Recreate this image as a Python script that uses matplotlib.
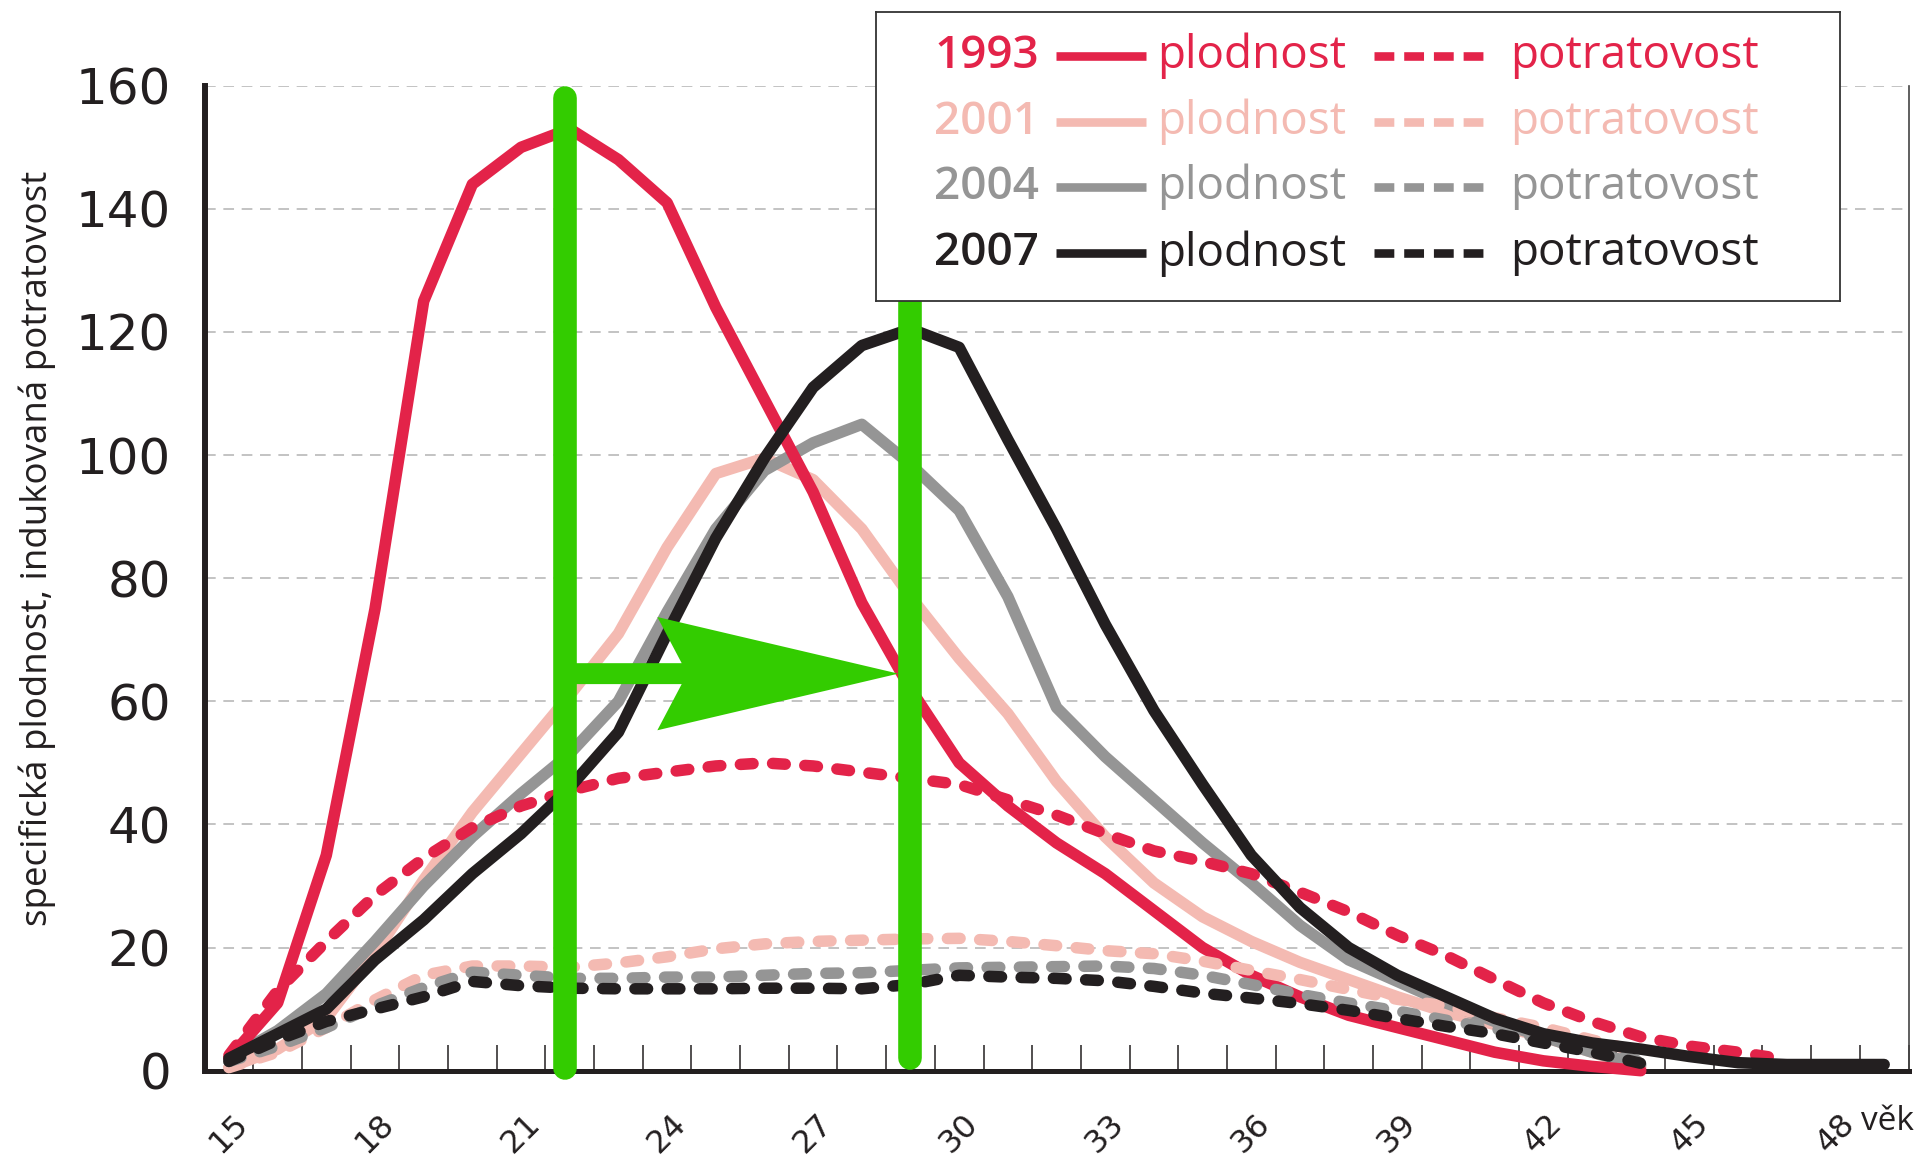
import matplotlib
matplotlib.use("Agg")
import matplotlib.pyplot as plt
from matplotlib.ticker import MultipleLocator
import numpy as np

plt.rcParams['font.family'] = ['Open Sans', 'DejaVu Sans']

# ages (věk)
ages = list(range(15, 45))          # 15..44
ages_pot_1993 = list(range(15, 48))  # 15..47
ages_plod_2007 = list(range(15, 50))  # 15..49

# specifická plodnost (per 1000 women)
plod_1993 = [2, 11, 35, 75, 125, 144, 150, 153, 148, 141, 124, 109, 94, 76, 62,
             50, 43, 37, 32, 26, 20, 15.5, 12, 9, 7, 5, 3, 1.6, 0.7, 0]
plod_2001 = [0.5, 3.5, 8.5, 19, 31, 42, 51.5, 61, 71, 85, 97, 99.5, 96, 88, 77,
             67, 58, 47, 38, 30.5, 25, 21, 17.6, 14.8, 12, 9.5, 7.5, 5.5, 3, 0.5]
plod_2004 = [2, 6.5, 12.5, 21, 30, 38, 45, 51.5, 60, 74.5, 88, 97.5, 102, 105, 98.5,
             91, 77, 59, 51, 44, 37, 30.5, 23.6, 18, 14.5, 11, 8, 5.5, 3, 1]
plod_2007 = [2, 6, 10, 18, 24.5, 32, 38.5, 46, 55, 71, 86.5, 99.5, 111, 117.8, 120.5,
             117.5, 102.5, 88, 72.5, 58.5, 46.5, 35, 26.5, 20, 15.5, 12, 8.5, 6, 4.5, 3.5,
             2.3, 1.3, 1, 1, 1]

# indukovaná potratovost
pot_1993 = [2.5, 13, 21, 28.5, 34.5, 39.5, 43, 45.5, 47.5, 48.5, 49.5, 50, 49.5, 48.5, 47.5,
            46.5, 44, 41.5, 38.5, 35.7, 34, 32, 29, 25.8, 22, 18.7, 14.8, 11, 8, 5.5,
            4, 3, 1.8]
pot_2001 = [0.5, 3, 7, 11.5, 15.5, 17, 17, 16.8, 17.5, 18.5, 19.8, 20.6, 21, 21.2, 21.4,
            21.5, 21, 20.3, 19.5, 19, 17.8, 16.3, 14.8, 13.2, 11.6, 10.5, 8.6, 7, 5, 3]
pot_2004 = [1.5, 4, 7, 10.5, 13.5, 16, 15.5, 15, 15, 15.2, 15.2, 15.5, 15.8, 15.9, 16.3,
            16.7, 16.8, 16.9, 17, 16.6, 15.5, 14, 12.4, 11, 9.7, 8.2, 6.8, 5.2, 3.5, 1.5]
pot_2007 = [1.5, 5, 8, 10, 12, 14.5, 13.8, 13.4, 13.3, 13.3, 13.3, 13.4, 13.4, 13.3, 14,
            15.5, 15.2, 15, 14.6, 13.7, 12.6, 11.8, 10.9, 9.8, 8.5, 7.2, 6, 4.5, 3, 1.2]

years = ["1993", "2001", "2004", "2007"]
colors = ["#e32349", "#f4bab2", "#959595", "#231f20"]

# peak shift annotation (age of peak 1993 -> 2007)
peak_from = 21.9
peak_to = 29.0
arrow_y = 64.5
green = "#33cc00"

fig = plt.figure(figsize=(19.21, 11.59), dpi=100)
ax = fig.add_axes([0.1065, 0.0762, 0.887, 0.8498])

lw = 8.3
dash = (1.1, 1.7)
series = [
    (ages, plod_2001, colors[1], "-", 2),
    (ages, plod_2004, colors[2], "-", 3),
    (ages, plod_1993, colors[0], "-", 4),
    (ages, pot_2001, colors[1], "--", 5),
    (ages, pot_2004, colors[2], "--", 6),
    (ages_pot_1993, pot_1993, colors[0], "--", 7),
    (ages, pot_2007, colors[3], "--", 8),
    (ages_plod_2007, plod_2007, colors[3], "-", 9),
]
for x, y, c, ls, z in series:
    line, = ax.plot(x, y, color=c, lw=lw, zorder=z, solid_capstyle="round",
                    solid_joinstyle="round", dash_capstyle="round", clip_on=False)
    if ls == "--":
        line.set_dashes(dash)

# green marks
ax.plot([peak_from, peak_from], [0.5, 158], color=green, lw=17,
        solid_capstyle="round", zorder=20, clip_on=False)
ax.plot([peak_to, peak_to], [2, 126], color=green, lw=17,
        solid_capstyle="round", zorder=20, clip_on=False)
tip = peak_to - 0.25
ax.fill([peak_from, 24.3, 23.8, tip, 23.8, 24.3, peak_from],
        [arrow_y + 1.7, arrow_y + 1.7, arrow_y + 9.2, arrow_y, arrow_y - 9.2,
         arrow_y - 1.7, arrow_y - 1.7], color=green, lw=0, zorder=20)

ax.set_xlim(14.5, 49.5)
ax.set_ylim(0, 160)

ax.spines["top"].set_visible(False)
ax.spines["left"].set_linewidth(4.3)
ax.spines["bottom"].set_linewidth(3.6)
ax.spines["left"].set_color("#231f20")
ax.spines["bottom"].set_color("#231f20")
ax.spines["right"].set_linewidth(1.2)
ax.spines["right"].set_color("#444444")

ax.set_yticks(range(0, 161, 20))
ax.tick_params(axis="y", length=0, pad=24, labelsize=36, labelcolor="#231f20")
for t in ax.get_yticklabels():
    t.set_family("DejaVu Sans")
ax.yaxis.grid(True, linestyle=(0, (7, 5)), color="#b3b3b3", lw=1.1)
ax.set_axisbelow(True)

ax.set_xticks(range(15, 49, 3))
ax.xaxis.set_minor_locator(MultipleLocator(1, offset=0.5))
ax.tick_params(axis="x", which="major", length=0, pad=27, labelsize=23,
               labelrotation=45, labelcolor="#231f20")
ax.tick_params(axis="x", which="minor", direction="in", length=19, width=1.1,
               color="#231f20")
for t in ax.get_xticklabels():
    t.set_family("DejaVu Sans")
    t.set_ha("center")

ax.set_ylabel("specifická plodnost, indukovaná potratovost", fontsize=26.5,
              color="#231f20")
ax.yaxis.set_label_coords(-0.087, 0.53)
fig.text(0.9964, 0.032, "věk", fontsize=24, ha="right", va="center", color="#231f20")

# legend box
lax = fig.add_axes([0.456, 0.7403, 0.5018, 0.2494])
lax.set_xlim(0, 1)
lax.set_ylim(0, 1)
lax.set_xticks([])
lax.set_yticks([])
for s in lax.spines.values():
    s.set_linewidth(1.3)
    s.set_color("#333333")
rows = [0.847, 0.619, 0.394, 0.165]
for yr, c, ry in zip(years, colors, rows):
    lax.text(0.169, ry, yr, color=c, fontsize=33, fontweight="semibold",
             ha="right", va="center")
    lax.plot([0.187, 0.280], [ry, ry], color=c, lw=6.2, solid_capstyle="butt")
    lax.text(0.292, ry, "plodnost", color=c, fontsize=33, ha="left", va="center")
    dl, = lax.plot([0.517, 0.633], [ry, ry], color=c, lw=6.2, dash_capstyle="butt")
    dl.set_dashes((2.3, 1.15))
    lax.text(0.658, ry, "potratovost", color=c, fontsize=33, ha="left", va="center")

fig.savefig("out.png", dpi=100)
